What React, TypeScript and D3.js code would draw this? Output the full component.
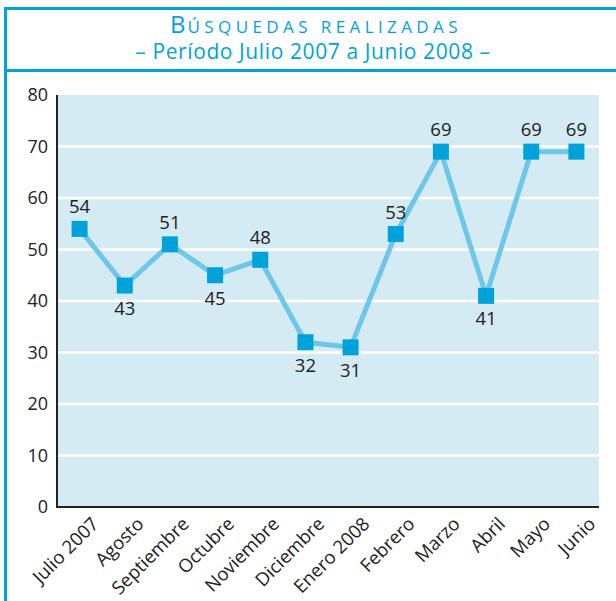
import React from "react";
import * as d3 from "d3";

const months = ["Julio 2007", "Agosto", "Septiembre", "Octubre", "Noviembre", "Diciembre", "Enero 2008", "Febrero", "Marzo", "Abril", "Mayo", "Junio"];
const searches = [54, 43, 51, 45, 48, 32, 31, 53, 69, 41, 69, 69];
const labelBelow = [false, true, false, true, false, true, true, false, false, true, false, false];
const yTicks = [0, 10, 20, 30, 40, 50, 60, 70, 80];
const titleFirst = "B";
const titleRest = "ÚSQUEDAS REALIZADAS";
const subtitle = "– Período Julio 2007 a Junio 2008 –";

const W = 616, H = 601;
const left = 57, right = 599, top = 95, bottom = 507;
const FONT = "'Open Sans', 'Noto Sans', sans-serif";
const BLUE = "#00a3d9";

export default function App() {
  const x = d3.scalePoint<string>().domain(months).range([left, right]).padding(0.5);
  const y = d3.scaleLinear().domain([0, 80]).range([bottom, top]);
  const line = d3.line<number>().x((_, i) => x(months[i])!).y((d) => y(d));
  const sq = 16;
  return (
    <svg width={W} height={H} style={{ position: "absolute", left: 0, top: 0 }}>
      <rect width={W} height={H} fill="#fff" />
      {/* frame */}
      <line x1={5.5} x2={5.5} y1={7} y2={H} stroke={BLUE} strokeWidth={3} />
      <line x1={4} x2={W} y1={8.5} y2={8.5} stroke={BLUE} strokeWidth={3} />
      <line x1={4} x2={W} y1={70.5} y2={70.5} stroke={BLUE} strokeWidth={3} />
      {/* titles */}
      <text x={316} y={33} textAnchor="middle" fill={BLUE} fontFamily={FONT}>
        <tspan fontSize={24} style={{ letterSpacing: "2px" }}>{titleFirst}</tspan>
        <tspan fontSize={17} style={{ letterSpacing: "4.4px" }}>{titleRest}</tspan>
      </text>
      <text x={313} y={59} textAnchor="middle" fill={BLUE} fontFamily={FONT} fontSize={21} style={{ letterSpacing: "0.6px" }}>{subtitle}</text>
      {/* plot bg */}
      <rect x={left} y={top} width={right - left} height={bottom - top} fill="#d4ebf4" />
      {yTicks.filter((t) => t > 0 && t < 80).map((t) => (
        <line key={t} x1={left} x2={right} y1={y(t)} y2={y(t)} stroke="#fff" strokeWidth={2.5} />
      ))}
      <line x1={left} x2={left} y1={top} y2={bottom + 1} stroke="#222" strokeWidth={2} />
      <line x1={left - 1} x2={right} y1={bottom} y2={bottom} stroke="#222" strokeWidth={2} />
      {yTicks.map((t) => (
        <text key={t} x={48} y={y(t)} dy="0.35em" textAnchor="end" fill="#222" fontFamily={FONT} fontSize={18}>{t}</text>
      ))}
      {months.map((m) => (
        <text key={m} transform={`translate(${x(m)! + 11},${bottom + 9}) rotate(-45)`} textAnchor="end" dy="0.7em" fill="#222" fontFamily={FONT} fontSize={18.5}>{m}</text>
      ))}
      <path d={line(searches)!} fill="none" stroke="#6ec6e8" strokeWidth={5} strokeLinejoin="round" />
      {searches.map((v, i) => (
        <rect key={i} x={x(months[i])! - sq / 2} y={y(v) - sq / 2} width={sq} height={sq} fill={BLUE} />
      ))}
      {searches.map((v, i) => (
        <text key={i} x={x(months[i])!} y={y(v) + (labelBelow[i] ? 23 : -22)} dy="0.35em" textAnchor="middle" fill="#222" fontFamily={FONT} fontSize={18.5}>{v}</text>
      ))}
    </svg>
  );
}
